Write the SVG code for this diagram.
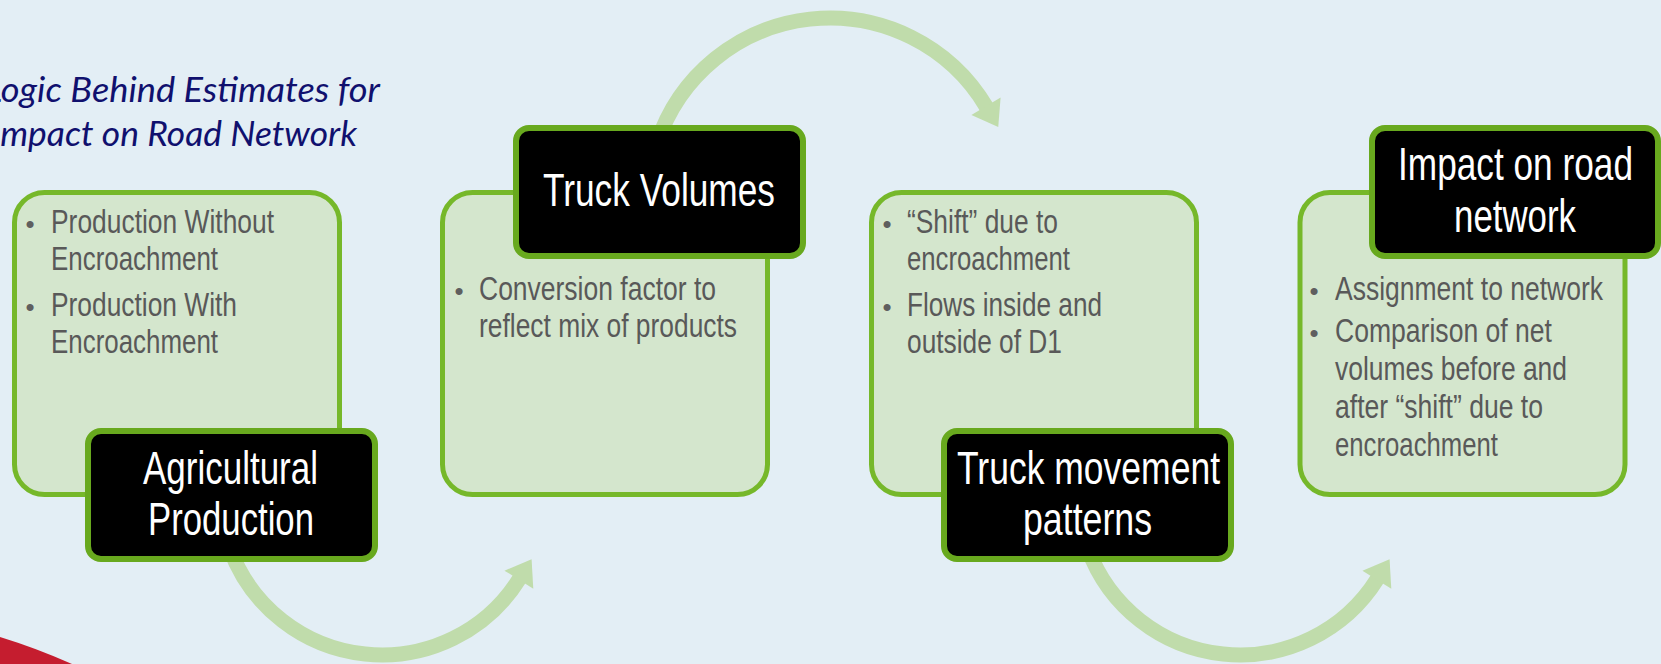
<svg xmlns="http://www.w3.org/2000/svg" width="1661" height="664" viewBox="0 0 1661 664">
  <defs>
    <style>
      .panel { fill: #d4e6cd; stroke: #76b82a; stroke-width: 5; }
      .tag { fill: #000000; stroke: #68a91e; stroke-width: 6; }
      .tag-text { font-family: "Liberation Sans Narrow", "Liberation Sans", Arial, sans-serif; font-size: 46px; fill: #ffffff; }
      .item { font-family: "Liberation Sans Narrow", "Liberation Sans", Arial, sans-serif; font-size: 33px; fill: #595959; }
      .dot { font-family: "Liberation Sans", Arial, sans-serif; font-size: 26px; fill: #5f5f5f; text-anchor: middle; }
      .title { font-family: Lato, "Open Sans", sans-serif; font-style: italic; font-size: 35px; fill: #10106e; }
      .flow { fill: none; stroke: #c0dcab; stroke-width: 15; marker-end: url(#head); }
    </style>
    <marker id="head" markerUnits="userSpaceOnUse" viewBox="-2 -20 30 40" markerWidth="30" markerHeight="40" refX="1" refY="0" orient="auto">
      <path d="M0,-17 L24,0 L0,17 Z" fill="#c0dcab"/>
    </marker>
  </defs>

  <!-- background -->
  <rect x="0" y="0" width="1661" height="664" fill="#e3eef5"/>
  <!-- red corner accent -->
  <path d="M0,637 Q36,648 72,664 L0,664 Z" fill="#c51d2f"/>

  <!-- heading, running off the left edge of the slide -->
  <text class="title" x="-15" y="102" textLength="395" lengthAdjust="spacingAndGlyphs">Logic Behind Estimates for</text>
  <text class="title" x="-9" y="146" textLength="366" lengthAdjust="spacingAndGlyphs">Impact on Road Network</text>

  <!-- curved flow arrows between steps -->
  <g id="connectors">
    <path class="flow" d="M229.8,548.4 A162,162 0 0 0 519.4,578.8"/>
    <path class="flow" d="M656.9,143.8 A182,182 0 0 1 986.5,107.1"/>
    <path class="flow" d="M1087.8,548.4 A162,162 0 0 0 1377.4,578.8"/>
  </g>

  <!-- step 1 -->
  <g id="agricultural-production">
    <rect class="panel" x="14.5" y="192.5" width="325" height="302" rx="30"/>
    <text class="dot" x="30" y="233">•</text>
    <text class="item" x="51" y="233" textLength="223" lengthAdjust="spacingAndGlyphs">Production Without</text>
    <text class="item" x="51" y="270" textLength="167" lengthAdjust="spacingAndGlyphs">Encroachment</text>
    <text class="dot" x="30" y="316">•</text>
    <text class="item" x="51" y="316" textLength="186" lengthAdjust="spacingAndGlyphs">Production With</text>
    <text class="item" x="51" y="353" textLength="167" lengthAdjust="spacingAndGlyphs">Encroachment</text>
    <rect class="tag" x="88" y="431" width="287" height="128" rx="13"/>
    <text class="tag-text" x="143" y="484" textLength="175" lengthAdjust="spacingAndGlyphs">Agricultural</text>
    <text class="tag-text" x="148" y="535" textLength="166" lengthAdjust="spacingAndGlyphs">Production</text>
  </g>

  <!-- step 2 -->
  <g id="truck-volumes">
    <rect class="panel" x="442.5" y="192.5" width="325" height="302" rx="30"/>
    <text class="dot" x="459" y="300">•</text>
    <text class="item" x="479" y="300" textLength="237" lengthAdjust="spacingAndGlyphs">Conversion factor to</text>
    <text class="item" x="479" y="337" textLength="258" lengthAdjust="spacingAndGlyphs">reflect mix of products</text>
    <rect class="tag" x="516" y="128" width="287" height="128" rx="13"/>
    <text class="tag-text" x="543" y="206" textLength="232" lengthAdjust="spacingAndGlyphs">Truck Volumes</text>
  </g>

  <!-- step 3 -->
  <g id="truck-movement-patterns">
    <rect class="panel" x="871.5" y="192.5" width="325" height="302" rx="30"/>
    <text class="dot" x="887" y="233">•</text>
    <text class="item" x="907" y="233" textLength="151" lengthAdjust="spacingAndGlyphs">“Shift” due to</text>
    <text class="item" x="907" y="270" textLength="163" lengthAdjust="spacingAndGlyphs">encroachment</text>
    <text class="dot" x="887" y="316">•</text>
    <text class="item" x="907" y="316" textLength="195" lengthAdjust="spacingAndGlyphs">Flows inside and</text>
    <text class="item" x="907" y="353" textLength="155" lengthAdjust="spacingAndGlyphs">outside of D1</text>
    <rect class="tag" x="944" y="431" width="287" height="128" rx="13"/>
    <text class="tag-text" x="957" y="484" textLength="263" lengthAdjust="spacingAndGlyphs">Truck movement</text>
    <text class="tag-text" x="1023" y="535" textLength="129" lengthAdjust="spacingAndGlyphs">patterns</text>
  </g>

  <!-- step 4 -->
  <g id="impact-on-road-network">
    <rect class="panel" x="1300" y="192.5" width="325" height="302" rx="30"/>
    <text class="dot" x="1314" y="300">•</text>
    <text class="item" x="1335" y="300" textLength="268" lengthAdjust="spacingAndGlyphs">Assignment to network</text>
    <text class="dot" x="1314" y="342">•</text>
    <text class="item" x="1335" y="342" textLength="217" lengthAdjust="spacingAndGlyphs">Comparison of net</text>
    <text class="item" x="1335" y="380" textLength="232" lengthAdjust="spacingAndGlyphs">volumes before and</text>
    <text class="item" x="1335" y="418" textLength="208" lengthAdjust="spacingAndGlyphs">after “shift” due to</text>
    <text class="item" x="1335" y="456" textLength="163" lengthAdjust="spacingAndGlyphs">encroachment</text>
    <rect class="tag" x="1372" y="128" width="286" height="128" rx="13"/>
    <text class="tag-text" x="1398" y="180" textLength="235" lengthAdjust="spacingAndGlyphs">Impact on road</text>
    <text class="tag-text" x="1454" y="232" textLength="122" lengthAdjust="spacingAndGlyphs">network</text>
  </g>
</svg>
